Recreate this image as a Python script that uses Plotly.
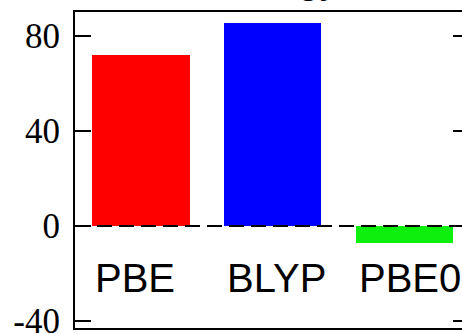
import plotly.graph_objects as go

# Relative energies per functional
methods = ["PBE", "BLYP", "PBE0"]
energies = [72.0, 85.5, -7.2]
bar_colors = ["#ff0000", "#0000ff", "#0df00d"]
y_ticks = [-40, 0, 40, 80]
y_tick_text = ["-40", "0", "40", "80"]
title_text = "Energy"

fig = go.Figure()
fig.add_trace(go.Bar(
    x=list(range(len(methods))),
    y=energies,
    width=0.735,
    marker=dict(color=bar_colors, line=dict(width=0)),
    showlegend=False,
))

# right-hand inward ticks, sharing the left scale
fig.add_trace(go.Scatter(x=[0], y=[0], yaxis="y2", mode="markers",
                         marker=dict(opacity=0), showlegend=False, hoverinfo="skip"))

# method names written inside the frame, just below the zero line
for i, name in enumerate(methods):
    fig.add_annotation(x=i - 0.36, y=-21.8, xref="x", yref="y", text=name,
                       showarrow=False, xanchor="left", yanchor="middle",
                       font=dict(family="Liberation Sans, Arial", size=40, color="black"))

# title sits above the frame, mostly beyond the top edge of the page
fig.add_annotation(x=0.52, y=1, xref="paper", yref="paper", text=title_text,
                   showarrow=False, xanchor="center", yanchor="bottom", yshift=9,
                   font=dict(family="Liberation Sans, Arial", size=40, color="black"))

# dashed zero reference line
fig.add_shape(type="line", xref="paper", yref="y", x0=0, x1=1, y0=0, y1=0,
              line=dict(color="black", width=2, dash="15px,7px"), layer="above")

fig.update_layout(
    width=462, height=334,
    margin=dict(l=75, r=0, t=12, b=6, autoexpand=False),
    paper_bgcolor="white", plot_bgcolor="white",
    bargap=0,
    xaxis=dict(range=[-0.5, 2.432], showgrid=False, zeroline=False,
               showticklabels=False, ticks="", showline=True, mirror=True,
               linecolor="black", linewidth=2, automargin=False),
    yaxis=dict(range=[-42.9, 90.1], tickvals=y_ticks, ticktext=y_tick_text,
               showgrid=False, zeroline=False, automargin=False,
               ticks="inside", ticklen=16, tickwidth=2, tickcolor="black",
               showline=True, linecolor="black", linewidth=2,
               ticklabelstandoff=6, ticklabeloverflow="allow",
               tickfont=dict(family="Liberation Serif, Times New Roman", size=35, color="black")),
    yaxis2=dict(overlaying="y", side="right", matches="y", tickvals=y_ticks,
                showgrid=False, zeroline=False, showticklabels=False, automargin=False,
                ticks="inside", ticklen=9, tickwidth=2, tickcolor="black",
                showline=False),
)

fig.write_html("out.html")
